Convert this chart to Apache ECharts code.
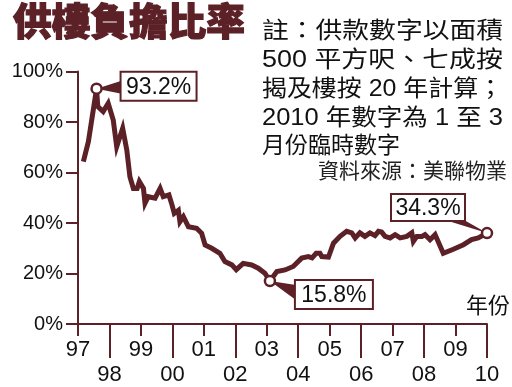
<!DOCTYPE html>
<html><head><meta charset="utf-8">
<script src="https://cdn.jsdelivr.net/npm/echarts@6/dist/echarts.min.js"></script>
<style>html,body{margin:0;padding:0;background:#fff}#c{width:512px;height:387px}</style>
</head><body><div id="c"></div>
<script>
// ---------- data ----------
const titleText = '供樓負擔比率';
const noteLines = ['註：供款數字以面積', '500 平方呎、七成按', '揭及樓按 20 年計算；', '2010 年數字為 1 至 3', '月份臨時數字'];
const sourceText = '資料來源：美聯物業';
const unitText = '年份';
const yearLabels = ['97','98','99','00','01','02','03','04','05','06','07','08','09','10'];
const yTickMin = 0, yTickMax = 100, yTickStep = 20;

const years = [1997.17,1997.33,1997.59,1997.63,1997.80,1997.96,1998.12,1998.23,1998.42,1998.55,
  1998.65,1998.76,1998.88,1998.95,1999.08,1999.13,1999.23,1999.45,1999.61,1999.71,
  1999.89,1999.99,2000.06,2000.19,2000.24,2000.35,2000.51,2000.77,2000.93,2001.04,
  2001.25,2001.51,2001.67,2001.89,2002.03,2002.25,2002.52,2002.73,2002.94,2003.10,
  2003.32,2003.58,2003.84,2004.11,2004.32,2004.44,2004.57,2004.69,2004.75,2004.96,
  2005.12,2005.33,2005.54,2005.70,2005.81,2005.96,2006.12,2006.28,2006.44,2006.55,
  2006.65,2006.76,2006.92,2007.08,2007.24,2007.45,2007.61,2007.66,2007.77,2007.93,
  2008.03,2008.19,2008.35,2008.61,2008.93,2009.25,2009.51,2009.72,2010.00];
const ratios = [64.3,72.2,93.2,86.1,84.1,87.4,80.8,70.2,77.5,69.0,
  58.3,53.7,53.7,56.4,53.7,47.8,50.4,49.8,53.7,50.4,
  51.1,47.1,43.8,45.0,40.5,42.5,38.5,37.9,35.9,31.3,
  30.0,28.0,24.7,23.4,21.5,24.0,23.4,22.1,20.1,17.0,
  20.8,21.4,22.8,26.1,26.7,26.2,28.0,28.0,26.7,26.5,
  32.0,34.7,36.7,36.1,34.1,36.1,34.7,36.1,35.0,36.7,
  36.4,34.7,34.1,35.4,34.1,34.7,36.1,32.7,34.7,34.7,
  35.4,33.4,35.4,28.0,29.6,31.4,33.4,34.1,36.0];
const calloutYears = [1997.59, 2003.10, 2010.00];
const calloutTexts = ['93.2%', '15.8%', '34.3%'];

// ---------- style ----------
const MAROON = '#5c2127';
const LATIN = '"Liberation Sans", Arial, "Noto Sans CJK TC", sans-serif';
const CJK = '"Noto Sans CJK TC", "Noto Sans CJK SC", sans-serif';

const chart = echarts.init(document.getElementById('c'), null, {renderer: 'canvas'});

const mctx = document.createElement('canvas').getContext('2d');
function measure(text, font) { mctx.font = font; return mctx.measureText(text).width; }

const noteFont = '23px ' + LATIN;
const noteX = 262, noteRight = 503;
const noteYs = [32, 61, 90, 119, 147];
const titleFont = '900 38px ' + CJK;
const titleW = measure(titleText, titleFont);
const staticGraphics = [
  {type: 'text', x: 13, y: 2, scaleX: 232 / titleW, style: {text: titleText, font: titleFont, fill: MAROON, stroke: MAROON, lineWidth: 1.2}}
];
noteLines.forEach((t, i) => {
  const w = measure(t, noteFont);
  const sx = i < 4 ? (noteRight - noteX) / w : 1;
  staticGraphics.push({type: 'text', x: noteX, y: noteYs[i], scaleX: sx,
    style: {text: t, font: noteFont, fill: '#111', verticalAlign: 'middle', align: 'left'}});
});
staticGraphics.push({type: 'text', x: 507, y: 170, style: {text: sourceText, font: '21px ' + CJK, fill: '#222', align: 'right', verticalAlign: 'middle'}});
staticGraphics.push({type: 'text', x: 466, y: 305, style: {text: unitText, font: '22px ' + CJK, fill: '#111', align: 'left', verticalAlign: 'middle'}});

const data = years.map((y, i) => [y, ratios[i]]);

const oddYears = (idx) => idx % 2 === 0;
const evenYears = (idx) => idx % 2 === 1;

chart.setOption({
  animation: false,
  backgroundColor: '#fff',
  grid: {left: 78, right: 25, top: 71.5, bottom: 63, containLabel: false},
  xAxis: [
    {type: 'category', data: yearLabels, boundaryGap: false, position: 'bottom',
      axisLine: {show: true, lineStyle: {color: MAROON, width: 2}},
      axisTick: {show: true, length: 12, interval: oddYears, lineStyle: {color: MAROON, width: 2}},
      axisLabel: {interval: oddYears, margin: 15, color: '#111', fontSize: 22, fontFamily: LATIN},
      splitLine: {show: false}},
    {type: 'category', data: yearLabels, boundaryGap: false, position: 'bottom',
      axisLine: {show: false},
      axisTick: {show: true, length: 34, interval: evenYears, lineStyle: {color: MAROON, width: 2}},
      axisLabel: {interval: evenYears, margin: 40, color: '#111', fontSize: 22, fontFamily: LATIN},
      splitLine: {show: false}},
    {type: 'value', min: 1997, max: 2010, show: false, splitLine: {show: false}}
  ],
  yAxis: {type: 'value', min: yTickMin, max: yTickMax, interval: yTickStep,
    axisLine: {show: true, lineStyle: {color: MAROON, width: 2}},
    axisTick: {show: true, length: 12, lineStyle: {color: MAROON, width: 2}},
    axisLabel: {formatter: '{value}%', margin: 15, color: '#111', fontSize: 20, fontFamily: LATIN, padding: [4, 0, 0, 0]},
    splitLine: {show: false}},
  series: [{type: 'line', xAxisIndex: 2, yAxisIndex: 0, data: data, showSymbol: false,
    lineStyle: {color: MAROON, width: 5, join: 'miter', miterLimit: 6}, z: 3}]
});

// callouts anchored to data points
const layouts = [
  {bx: 24, by: -17, bw: 76, bh: 29, wedge: (b) => [[b.x + 1, b.y + 9], [b.x + 1, b.y + 22]]},
  {bx: 25, by: -1, bw: 78, bh: 29, wedge: (b) => [[b.x + 1, b.y + 5], [b.x + 1, b.y + 20]]},
  {bx: -96, by: -39, bw: 74, bh: 27, wedge: (b) => [[b.x + b.w - 20, b.y + b.h - 1], [b.x + b.w - 1, b.y + b.h - 1]]}
];
const callouts = [];
calloutYears.forEach((yr, k) => {
  const i = years.indexOf(yr);
  const p = chart.convertToPixel({xAxisIndex: 2, yAxisIndex: 0}, [years[i], ratios[i]]);
  const L = layouts[k];
  const b = {x: p[0] + L.bx, y: p[1] + L.by, w: L.bw, h: L.bh};
  const wp = L.wedge(b);
  callouts.push({type: 'polygon', z: 10, shape: {points: [[p[0], p[1]], wp[0], wp[1]]}, style: {fill: MAROON}});
  callouts.push({type: 'rect', z: 11, shape: {x: b.x, y: b.y, width: b.w, height: b.h}, style: {fill: '#fff', stroke: MAROON, lineWidth: 2}});
  callouts.push({type: 'text', z: 12, x: b.x + b.w / 2, y: b.y + b.h / 2 + 1, style: {text: calloutTexts[k], font: '23px ' + LATIN, fill: '#111', align: 'center', verticalAlign: 'middle'}});
  callouts.push({type: 'circle', z: 13, shape: {cx: p[0], cy: p[1], r: 5}, style: {fill: '#fff', stroke: MAROON, lineWidth: 2.5}});
});
chart.setOption({graphic: staticGraphics.concat(callouts)});
</script></body></html>
